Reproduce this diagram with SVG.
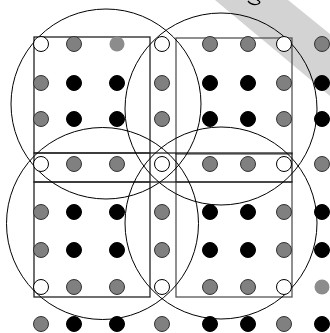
<svg xmlns="http://www.w3.org/2000/svg" width="330" height="333" viewBox="0 0 330 333">
<style>
.g{fill:#808080;stroke:#333;stroke-width:1}
.k{fill:#000;stroke:#000;stroke-width:1}
.w{fill:#fff;stroke:#000;stroke-width:1}
.l{fill:#8c8c8c;stroke:none}
.c{fill:none;stroke:#000;stroke-width:1}
.rd{fill:none;stroke:#222;stroke-width:1.3}
.rg{fill:none;stroke:#555;stroke-width:1.3}
</style>
<defs>
<circle id="d" r="7.5"/>
</defs>
<rect width="330" height="333" fill="#fff"/>
<g id="band">
<polygon points="215,0 288,0 330,34 330,96" fill="#d3d3d3"/>
<path d="M248,1 Q252,6 258,4 Q262,2 257,0" fill="none" stroke="#000" stroke-width="1.3"/>
</g>
<g id="frames">
<rect class="rd" x="34" y="37" width="116" height="116"/>
<rect class="rg" x="176" y="38" width="116" height="116"/>
<rect class="rd" x="34" y="182" width="116" height="115"/>
<rect class="rg" x="176" y="182" width="116" height="115"/>
<rect class="rd" x="34" y="153" width="258" height="29"/>
<line class="rd" x1="150" y1="153" x2="150" y2="182"/>
<line class="rd" x1="176" y1="153" x2="176" y2="182"/>
</g>
<g id="circles">
<circle class="c" cx="106" cy="104" r="95"/>
<circle class="c" cx="221" cy="109" r="96"/>
<circle class="c" cx="102.5" cy="223.5" r="96"/>
<circle class="c" cx="221" cy="223" r="96"/>
</g>
<g id="dots">
<g id="row1">
<use href="#d" class="w" x="41" y="44"/><use href="#d" class="g" x="74" y="44"/><use href="#d" class="l" x="117" y="44"/><use href="#d" class="w" x="162" y="44"/><use href="#d" class="g" x="210" y="44"/><use href="#d" class="g" x="248" y="44"/><use href="#d" class="w" x="284" y="44"/><use href="#d" class="g" x="322" y="44"/>
</g>
<g id="row2">
<use href="#d" class="g" x="41" y="83"/><use href="#d" class="k" x="74" y="83"/><use href="#d" class="k" x="117" y="83"/><use href="#d" class="g" x="162" y="83"/><use href="#d" class="k" x="210" y="83"/><use href="#d" class="k" x="248" y="83"/><use href="#d" class="g" x="284" y="83"/><use href="#d" class="k" x="322" y="83"/>
</g>
<g id="row3">
<use href="#d" class="g" x="41" y="119"/><use href="#d" class="k" x="74" y="119"/><use href="#d" class="k" x="117" y="119"/><use href="#d" class="g" x="162" y="119"/><use href="#d" class="k" x="210" y="119"/><use href="#d" class="k" x="248" y="119"/><use href="#d" class="g" x="284" y="119"/><use href="#d" class="k" x="322" y="119"/>
</g>
<g id="row4">
<use href="#d" class="w" x="41" y="164"/><use href="#d" class="g" x="74" y="164"/><use href="#d" class="g" x="117" y="164"/><use href="#d" class="w" x="162" y="164"/><use href="#d" class="g" x="210" y="164"/><use href="#d" class="g" x="248" y="164"/><use href="#d" class="w" x="284" y="164"/><use href="#d" class="g" x="322" y="164"/>
</g>
<g id="row5">
<use href="#d" class="g" x="41" y="212"/><use href="#d" class="k" x="74" y="212"/><use href="#d" class="k" x="117" y="212"/><use href="#d" class="g" x="162" y="212"/><use href="#d" class="k" x="210" y="212"/><use href="#d" class="k" x="248" y="212"/><use href="#d" class="g" x="284" y="212"/><use href="#d" class="k" x="322" y="212"/>
</g>
<g id="row6">
<use href="#d" class="g" x="41" y="250"/><use href="#d" class="k" x="74" y="250"/><use href="#d" class="k" x="117" y="250"/><use href="#d" class="g" x="162" y="250"/><use href="#d" class="k" x="210" y="250"/><use href="#d" class="k" x="248" y="250"/><use href="#d" class="g" x="284" y="250"/><use href="#d" class="k" x="322" y="250"/>
</g>
<g id="row7">
<use href="#d" class="w" x="41" y="287"/><use href="#d" class="g" x="74" y="287"/><use href="#d" class="g" x="117" y="287"/><use href="#d" class="w" x="162" y="287"/><use href="#d" class="g" x="210" y="287"/><use href="#d" class="g" x="248" y="287"/><use href="#d" class="w" x="284" y="287"/><use href="#d" class="l" x="322" y="287"/>
</g>
<g id="row8">
<use href="#d" class="g" x="41" y="324"/><use href="#d" class="k" x="74" y="324"/><use href="#d" class="k" x="117" y="324"/><use href="#d" class="g" x="162" y="324"/><use href="#d" class="k" x="210" y="324"/><use href="#d" class="k" x="248" y="324"/><use href="#d" class="g" x="284" y="324"/><use href="#d" class="k" x="322" y="324"/>
</g>
</g>
</svg>
